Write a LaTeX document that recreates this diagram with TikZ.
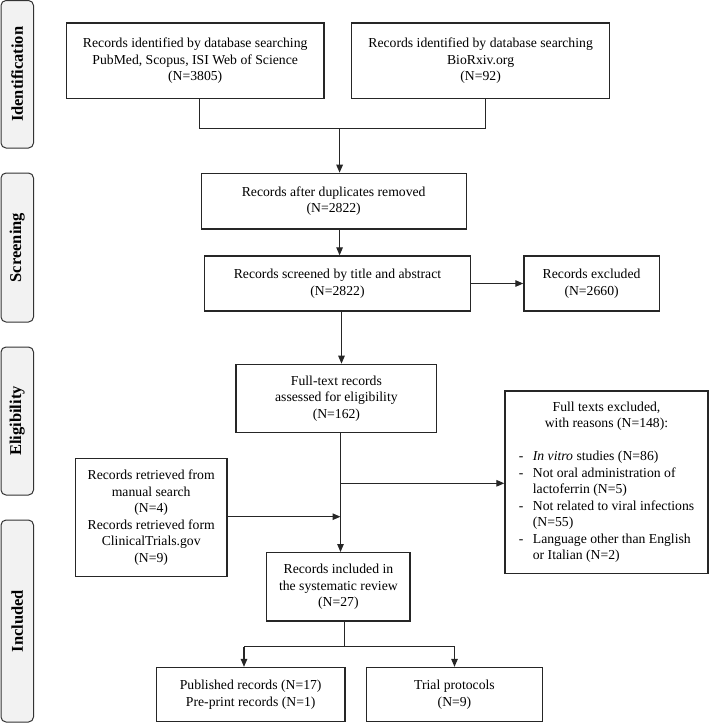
\documentclass[tikz,border=0pt]{standalone}
\usepackage{fontspec}
\setmainfont{Liberation Serif}
\usetikzlibrary{arrows.meta}
\begin{document}
\begin{tikzpicture}[x=1pt,y=-1pt,
  box/.style={draw=black!85, line width=1.3pt, align=center, inner sep=0pt,
    font=\fontsize{13.7}{16.5}\selectfont},
  side/.style={draw=black!80, line width=1pt, fill=black!5, rounded corners=5pt,
    inner sep=0pt, minimum width=32.5pt, font=\fontsize{16.5}{18}\selectfont\bfseries},
  link/.style={line width=1.2pt, draw=black!85},
  arr/.style={link, -{Triangle[length=8pt,width=6.5pt]}}
]
\useasboundingbox (0,0) rectangle (709,723);

% side labels
\node[side, minimum height=147.5pt] (s1) at (17.25,74.25) {\rotatebox{90}{Identification}};
\node[side, minimum height=149pt] (s2) at (17.25,247.5) {\rotatebox{90}{Screening}};
\node[side, minimum height=148pt] (s3) at (17.25,421) {\rotatebox{90}{Eligibility}};
\node[side, minimum height=202pt] (s4) at (17.25,621) {\rotatebox{90}{Included}};

% boxes
\node[box, minimum width=257.3pt, minimum height=75.5pt] (A) at (195.2,60.7)
  {Records identified by database searching\\PubMed, Scopus, ISI Web of Science\\(N=3805)};
\node[box, minimum width=257.7pt, minimum height=75.5pt] (B) at (480.6,60.7)
  {Records identified by database searching\\BioRxiv.org\\(N=92)};
\node[box, minimum width=265pt, minimum height=55.7pt] (C) at (333.7,201.2)
  {Records after duplicates removed\\(N=2822)};
\node[box, minimum width=265.5pt, minimum height=55pt] (D) at (337.5,283.5)
  {Records screened by title and abstract\\(N=2822)};
\node[box, minimum width=135.3pt, minimum height=55pt] (E) at (591.6,283.5)
  {Records excluded\\(N=2660)};
\node[box, minimum width=200.8pt, minimum height=68.4pt] (F) at (336.4,398.5)
  {Full-text records\\assessed for eligibility\\(N=162)};
\node[box, minimum width=203pt, minimum height=182.3pt] (G) at (606.5,482.2)
  {\begin{tabular}{@{}l@{\hspace{9.5pt}}l@{}}
    \multicolumn{2}{c}{Full texts excluded,}\\
    \multicolumn{2}{c}{with reasons (N=148):}\\
    \\
    - & \textit{In vitro} studies (N=86)\\
    - & Not oral administration of\\
      & lactoferrin (N=5)\\
    - & Not related to viral infections\\
      & (N=55)\\
    - & Language other than English\\
      & or Italian (N=2)
  \end{tabular}};
\node[box, minimum width=151.5pt, minimum height=118pt] (H) at (151.2,517.7)
  {Records retrieved from\\manual search\\(N=4)\\Records retrieved form\\ClinicalTrials.gov\\(N=9)};
\node[box, minimum width=143.2pt, minimum height=68.3pt] (I) at (338.4,586.8)
  {Records included in\\the systematic review\\(N=27)};
\node[box, minimum width=188.5pt, minimum height=54pt] (J) at (250.7,694.5)
  {Published records (N=17)\\Pre-print records (N=1)};
\node[box, minimum width=176.3pt, minimum height=54pt] (K) at (454.5,694.5)
  {Trial protocols\\(N=9)};

% connectors
\coordinate (jA) at (199.4,128.3);
\coordinate (jB) at (485.2,128.3);
\coordinate (jM) at (339.6,128.3);
\draw[link] (A.south -| jA) -- (jA) -- (jB) -- (B.south -| jB);
\draw[arr] (jM) -- (C.north -| jM);
\draw[arr] (C.south -| jM) -- (D.north -| jM);
\draw[arr] (D.east) -- (E.west);
\coordinate (vF) at (341.5,330);
\draw[arr] (D.south -| vF) -- (F.north -| vF);
\coordinate (vI) at (340.5,483.3);
\draw[arr] (F.south -| vI) -- (I.north -| vI);
\draw[arr] (vI) -- (G.west |- vI);
\coordinate (hH) at (340.5,516.7);
\draw[arr] (H.east |- hH) -- (hH);
\coordinate (sI) at (344.6,646.7);
\coordinate (sJ) at (244,646.7);
\coordinate (sK) at (454.5,646.7);
\draw[link] (I.south -| sI) -- (sI);
\draw[link] (sJ) -- (sK);
\draw[arr] (sJ) -- (J.north -| sJ);
\draw[arr] (sK) -- (K.north -| sK);
\end{tikzpicture}
\end{document}
